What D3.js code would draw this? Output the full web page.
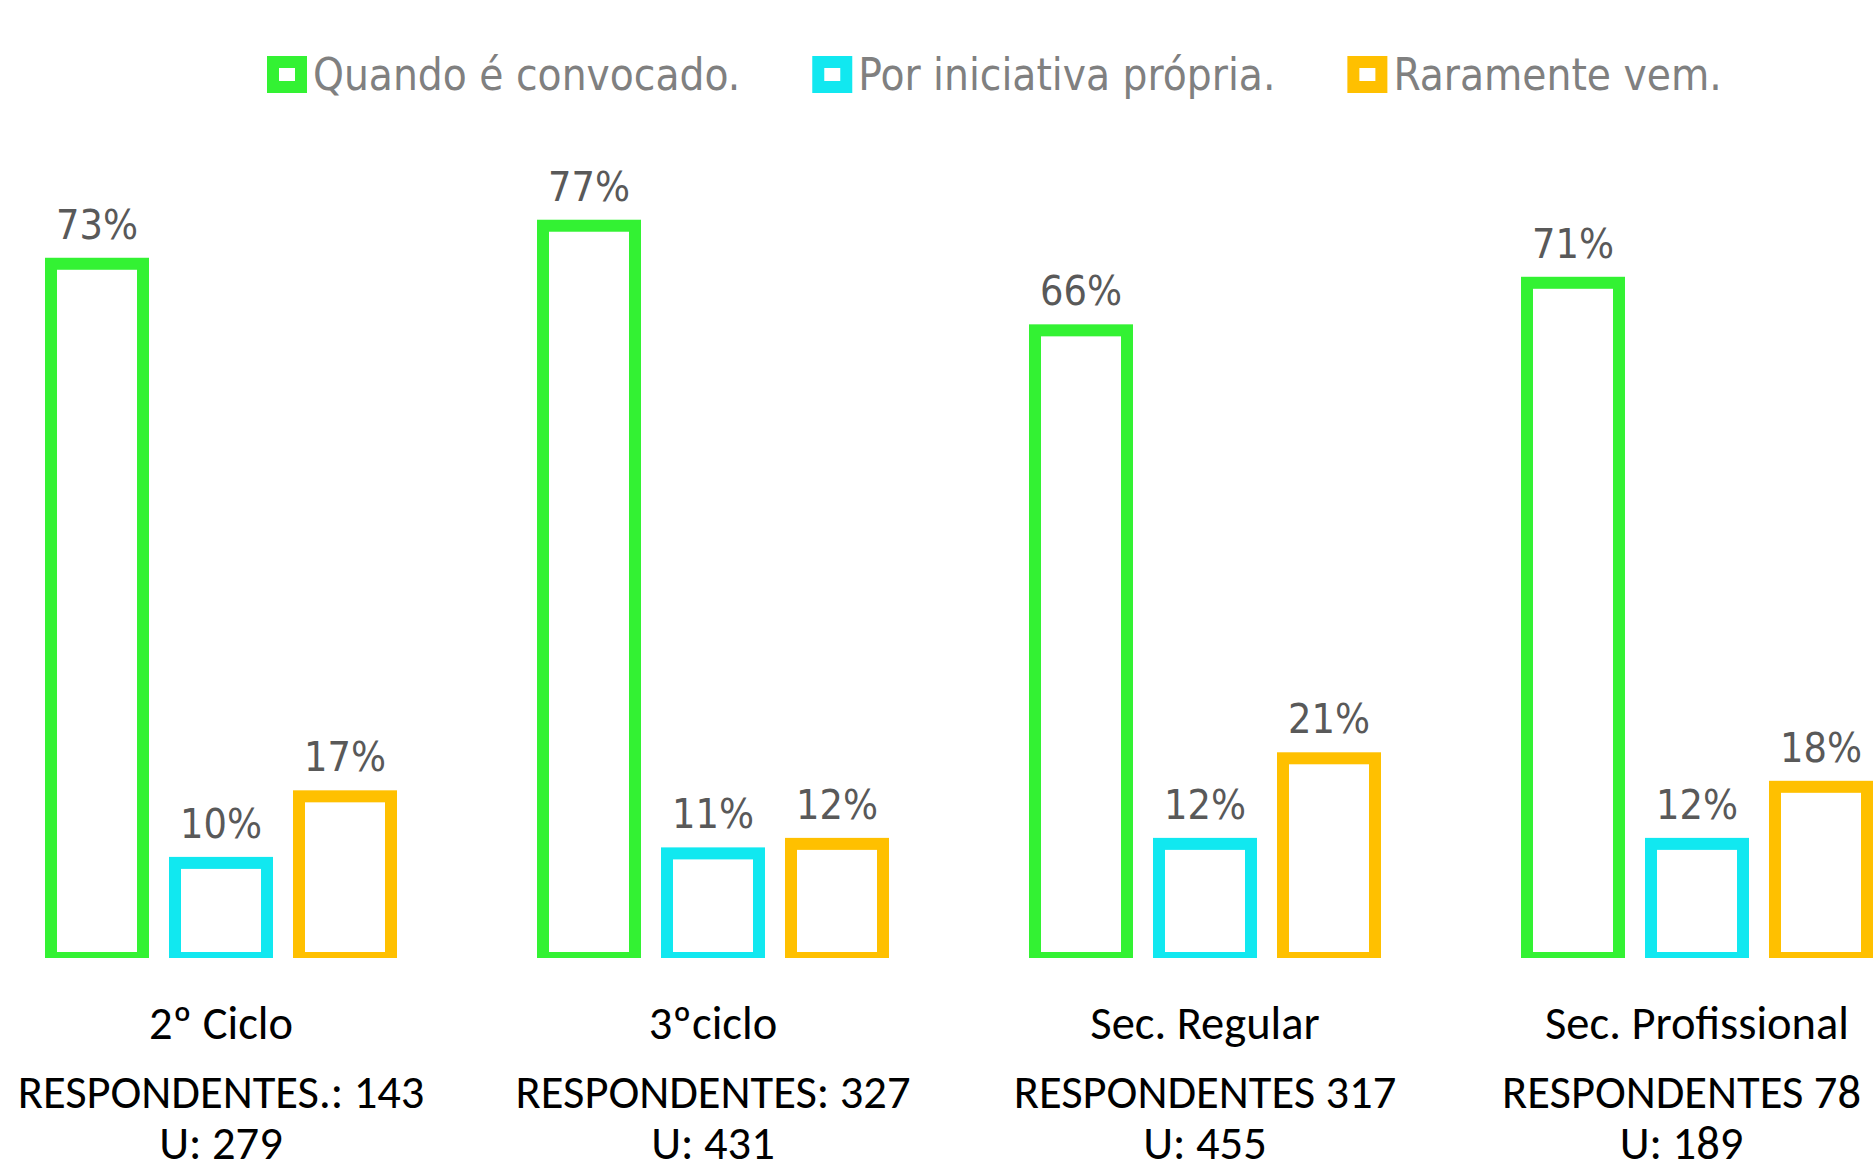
<!DOCTYPE html>
<html>
<head>
<meta charset="utf-8">
<script src="https://cdn.jsdelivr.net/npm/d3@7"></script>
<style>
  html, body { margin: 0; padding: 0; background: #ffffff; }
  svg { display: block; }
</style>
</head>
<body>
<svg id="chart" width="1873" height="1173"></svg>
<script>
// ---- data ----
const categories = ["2º Ciclo", "3ºciclo", "Sec. Regular", "Sec. Profissional"];
const respondentLabels = ["RESPONDENTES.: 143", "RESPONDENTES: 327", "RESPONDENTES 317", "RESPONDENTES 78"];
const universeLabels = ["U: 279", "U: 431", "U: 455", "U: 189"];
const seriesNames = ["Quando é convocado.", "Por iniciativa própria.", "Raramente vem."];
const seriesColors = ["#33F233", "#11E8F0", "#FFC000"];
const quandoConvocado = [73, 77, 66, 71];
const iniciativaPropria = [10, 11, 12, 12];
const raramenteVem = [17, 12, 21, 18];
const seriesValues = [quandoConvocado, iniciativaPropria, raramenteVem];

// ---- layout ----
const W = 1873, H = 1173;
const baseY = 958;
const svg = d3.select("#chart");

const y = d3.scaleLinear().domain([0, 100]).range([baseY, 7]);
const x0 = d3.scaleBand().domain(categories).range([-25, 1943]).padding(0);
const x1 = d3.scaleBand().domain(seriesNames).range([76, 416]).paddingInner(32 / 124).paddingOuter(0);
const color = d3.scaleOrdinal().domain(seriesNames).range(seriesColors);

const strokeW = 12;

svg.append("defs").append("clipPath").attr("id", "plotClip")
  .append("rect").attr("x", 0).attr("y", 0).attr("width", W).attr("height", baseY);

const rows = [];
categories.forEach((c, ci) => {
  seriesNames.forEach((s, si) => {
    rows.push({ cat: c, series: s, value: seriesValues[si][ci] });
  });
});

const plot = svg.append("g").attr("clip-path", "url(#plotClip)");
plot.selectAll("rect.bar").data(rows).join("rect")
  .attr("class", "bar")
  .attr("x", d => x0(d.cat) + x1(d.series))
  .attr("y", d => y(d.value))
  .attr("width", x1.bandwidth())
  .attr("height", d => baseY - y(d.value))
  .attr("fill", "#ffffff")
  .attr("stroke", d => color(d.series))
  .attr("stroke-width", strokeW);

// value labels
svg.selectAll("text.val").data(rows).join("text")
  .attr("class", "val")
  .attr("x", d => x0(d.cat) + x1(d.series) + x1.bandwidth() / 2)
  .attr("y", d => y(d.value) - 25)
  .attr("text-anchor", "middle")
  .attr("font-family", "'DejaVu Sans Condensed', 'DejaVu Sans', sans-serif")
  .attr("font-size", 41)
  .attr("fill", "#595959")
  .text(d => d.value + "%");

// category labels
const catFont = "Carlito, Lato, sans-serif";
const catSize = 46.5;
const catG = svg.append("g");
categories.forEach((c, i) => {
  const cx = x0(c) + x0.bandwidth() / 2;
  catG.append("text")
    .attr("x", cx).attr("y", 1039)
    .attr("text-anchor", "middle")
    .attr("font-family", catFont).attr("font-size", catSize).attr("fill", "#000000")
    .text(c);
  const block = catG.append("g");
  const t2 = block.append("text")
    .attr("x", cx).attr("y", 1108)
    .attr("text-anchor", "middle")
    .attr("font-family", catFont).attr("font-size", catSize).attr("fill", "#000000")
    .text(respondentLabels[i]);
  const t3 = block.append("text")
    .attr("x", cx).attr("y", 1159)
    .attr("text-anchor", "middle")
    .attr("font-family", catFont).attr("font-size", catSize).attr("fill", "#000000")
    .text(universeLabels[i]);
  // keep block inside the right edge
  const bw = Math.max(t2.node().getComputedTextLength(), t3.node().getComputedTextLength());
  const overflow = cx + bw / 2 - (W - 12);
  if (overflow > 0) block.attr("transform", `translate(${-overflow},0)`);
});

// legend
const legend = svg.append("g");
let cursor = 267;
seriesNames.forEach((s, i) => {
  const g = legend.append("g");
  g.append("rect")
    .attr("x", cursor + strokeW / 2).attr("y", 56 + strokeW / 2)
    .attr("width", 40 - strokeW).attr("height", 37 - strokeW)
    .attr("fill", "#ffffff")
    .attr("stroke", color(s)).attr("stroke-width", strokeW);
  const t = g.append("text")
    .attr("x", cursor + 46).attr("y", 90)
    .attr("font-family", "'DejaVu Sans Condensed', 'DejaVu Sans', sans-serif")
    .attr("font-size", 43.7)
    .attr("fill", "#808080")
    .text(s);
  cursor += 46 + t.node().getComputedTextLength() + 72;
});
</script>
</body>
</html>
